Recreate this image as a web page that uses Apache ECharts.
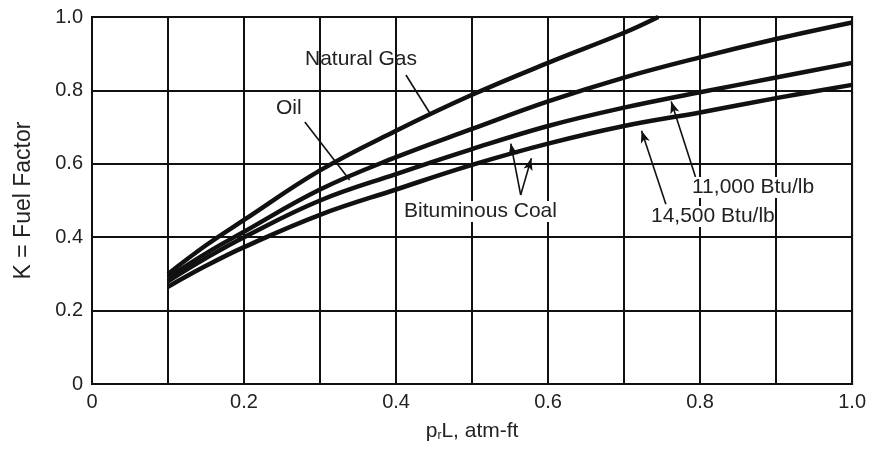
<!DOCTYPE html>
<html>
<head>
<meta charset="utf-8">
<script src="https://cdn.jsdelivr.net/npm/echarts@6/dist/echarts.min.js"></script>
<style>html,body{margin:0;padding:0;background:#fff;}#c{width:869px;height:451px;}</style>
</head>
<body>
<div id="c"></div>
<script>
// x values (p_r L, atm-ft)
var coalX = [0.1, 0.15, 0.2, 0.3, 0.4, 0.5, 0.6, 0.7, 0.8, 0.9, 1.0];
var gasX = [0.1, 0.15, 0.2, 0.3, 0.4, 0.5, 0.6, 0.7, 0.745];
// K = Fuel Factor
var naturalGasK = [0.30, 0.378, 0.447, 0.582, 0.69, 0.788, 0.875, 0.957, 1.0];
var oilK = [0.29, 0.356, 0.415, 0.53, 0.618, 0.695, 0.77, 0.835, 0.89, 0.94, 0.985];
var coal11000K = [0.28, 0.343, 0.40, 0.50, 0.572, 0.64, 0.703, 0.753, 0.795, 0.835, 0.875];
var coal14500K = [0.265, 0.322, 0.373, 0.461, 0.53, 0.597, 0.655, 0.703, 0.74, 0.779, 0.815];
var xTicks = [0, 0.2, 0.4, 0.6, 0.8, 1.0];
var yTicks = [0, 0.2, 0.4, 0.6, 0.8, 1.0];

function zip(xs, ys) { return xs.map(function (x, i) { return [x, ys[i]]; }); }
function fmt(v) { return v === 0 ? '0' : v.toFixed(1); }

var FONT = 'Liberation Sans, Arial, sans-serif';
var curveStyle = { color: '#111', width: 4.5 };

function leader(a, b, arrow) {
  return [
    { coord: a, symbol: 'none' },
    { coord: b, symbol: arrow ? 'arrow' : 'none', symbolSize: [7, 12] }
  ];
}

var chart = echarts.init(document.getElementById('c'), null, { renderer: 'canvas' });
chart.setOption({
  animation: false,
  backgroundColor: '#fff',
  grid: { left: 92, right: 15, top: 17, bottom: 67, show: true, borderColor: '#111', borderWidth: 2, backgroundColor: 'transparent' },
  xAxis: {
    type: 'value', min: 0, max: 1, interval: 0.1,
    name: '{a|p}{b|r}{a|L, atm-ft}', nameLocation: 'middle', nameGap: 34,
    nameTextStyle: { rich: {
      a: { fontFamily: FONT, fontSize: 21, color: '#222', lineHeight: 24, verticalAlign: 'bottom' },
      b: { fontFamily: FONT, fontSize: 12, color: '#222', lineHeight: 12, verticalAlign: 'bottom' }
    } },
    axisLine: { show: true, lineStyle: { color: '#111', width: 2 } },
    axisTick: { show: false },
    axisLabel: { margin: 8, fontFamily: FONT, fontSize: 20, color: '#222',
      formatter: function (v) {
        for (var i = 0; i < xTicks.length; i++) { if (Math.abs(v - xTicks[i]) < 1e-6) return fmt(xTicks[i]); }
        return '';
      } },
    splitLine: { show: true, lineStyle: { color: '#111', width: 2 } }
  },
  yAxis: {
    type: 'value', min: 0, max: 1, interval: 0.2,
    name: 'K = Fuel Factor', nameLocation: 'middle', nameGap: 57, nameRotate: 90,
    nameTextStyle: { fontFamily: FONT, fontSize: 23, color: '#222' },
    axisLine: { show: true, lineStyle: { color: '#111', width: 2 } },
    axisTick: { show: false },
    axisLabel: { margin: 9, fontFamily: FONT, fontSize: 20, color: '#222',
      formatter: function (v) {
        for (var i = 0; i < yTicks.length; i++) { if (Math.abs(v - yTicks[i]) < 1e-6) return fmt(yTicks[i]); }
        return '';
      } },
    splitLine: { show: true, lineStyle: { color: '#111', width: 2 } }
  },
  series: [
    { name: 'Natural Gas', type: 'line', data: zip(gasX, naturalGasK), showSymbol: false, smooth: 0.4, lineStyle: curveStyle, z: 5,
      markLine: { silent: true, symbol: ['none', 'none'], label: { show: false },
        lineStyle: { color: '#111', width: 1.6, type: 'solid' },
        data: [
          leader([0.413, 0.842], [0.446, 0.733], false),
          leader([0.28, 0.714], [0.339, 0.556], false),
          leader([0.564, 0.515], [0.551, 0.655], true),
          leader([0.564, 0.515], [0.578, 0.615], true),
          leader([0.794, 0.564], [0.762, 0.77], true),
          leader([0.755, 0.49], [0.723, 0.69], true)
        ] } },
    { name: 'Oil', type: 'line', data: zip(coalX, oilK), showSymbol: false, smooth: 0.4, lineStyle: curveStyle, z: 5 },
    { name: 'Bituminous Coal 11,000 Btu/lb', type: 'line', data: zip(coalX, coal11000K), showSymbol: false, smooth: 0.4, lineStyle: curveStyle, z: 5 },
    { name: 'Bituminous Coal 14,500 Btu/lb', type: 'line', data: zip(coalX, coal14500K), showSymbol: false, smooth: 0.4, lineStyle: curveStyle, z: 5 }
  ],
  graphic: [
    { type: 'text', left: 305, top: 49, style: { text: 'Natural Gas', font: '21px ' + FONT, fill: '#222' }, z: 10 },
    { type: 'text', left: 276, top: 98, style: { text: 'Oil', font: '21px ' + FONT, fill: '#222' }, z: 10 },
    { type: 'text', left: 404, top: 201, style: { text: 'Bituminous Coal', font: '21px ' + FONT, fill: '#222', backgroundColor: '#fff' }, z: 10 },
    { type: 'text', left: 692, top: 177, style: { text: '11,000 Btu/lb', font: '21px ' + FONT, fill: '#222', backgroundColor: '#fff' }, z: 10 },
    { type: 'text', left: 651, top: 206, style: { text: '14,500 Btu/lb', font: '21px ' + FONT, fill: '#222', backgroundColor: '#fff' }, z: 10 }
  ]
});
</script>
</body>
</html>
